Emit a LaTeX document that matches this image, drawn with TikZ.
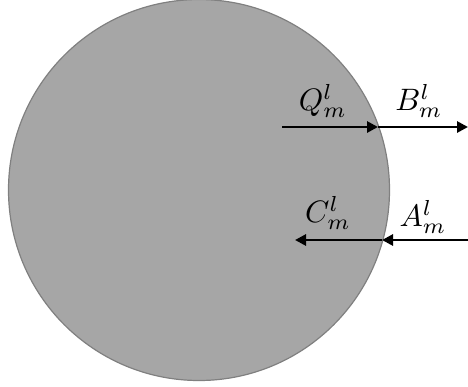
\documentclass[tikz,border=0pt]{standalone}
\usepackage{graphicx}
\usetikzlibrary{arrows.meta}
\newcommand{\biglbl}[1]{\scalebox{3.1}{$#1$}}
\begin{document}
\begin{tikzpicture}[x=1pt,y=-1pt,
  disk/.style={circle,fill={rgb,255:red,166;green,166;blue,166},draw={rgb,255:red,128;green,128;blue,128},line width=1.2pt,minimum size=381pt,inner sep=0pt},
  flow/.style={line width=2.8pt,-{Triangle[length=11pt,width=11pt]}},
  lbl/.style={inner sep=0pt}]
\useasboundingbox (0,0) rectangle (468,386);
\node[disk] (d) at (199,190) {};
\coordinate (q0) at (282,127);
\coordinate (p1) at (378,127);
\coordinate (b1) at (468,127);
\coordinate (a0) at (468,240);
\coordinate (p2) at (382,240);
\coordinate (c1) at (295,240);
\draw[flow] (q0) -- (p1);
\draw[flow] (p1) -- (b1);
\draw[flow] (a0) -- (p2);
\draw[flow] (p2) -- (c1);
\node[lbl] (Q) at (323,101) {\biglbl{Q_m^l}};
\node[lbl] (B) at (419,101) {\biglbl{B_m^l}};
\node[lbl] (C) at (328,213) {\biglbl{C_m^l}};
\node[lbl] (A) at (423,217) {\biglbl{A_m^l}};
\end{tikzpicture}
\end{document}
